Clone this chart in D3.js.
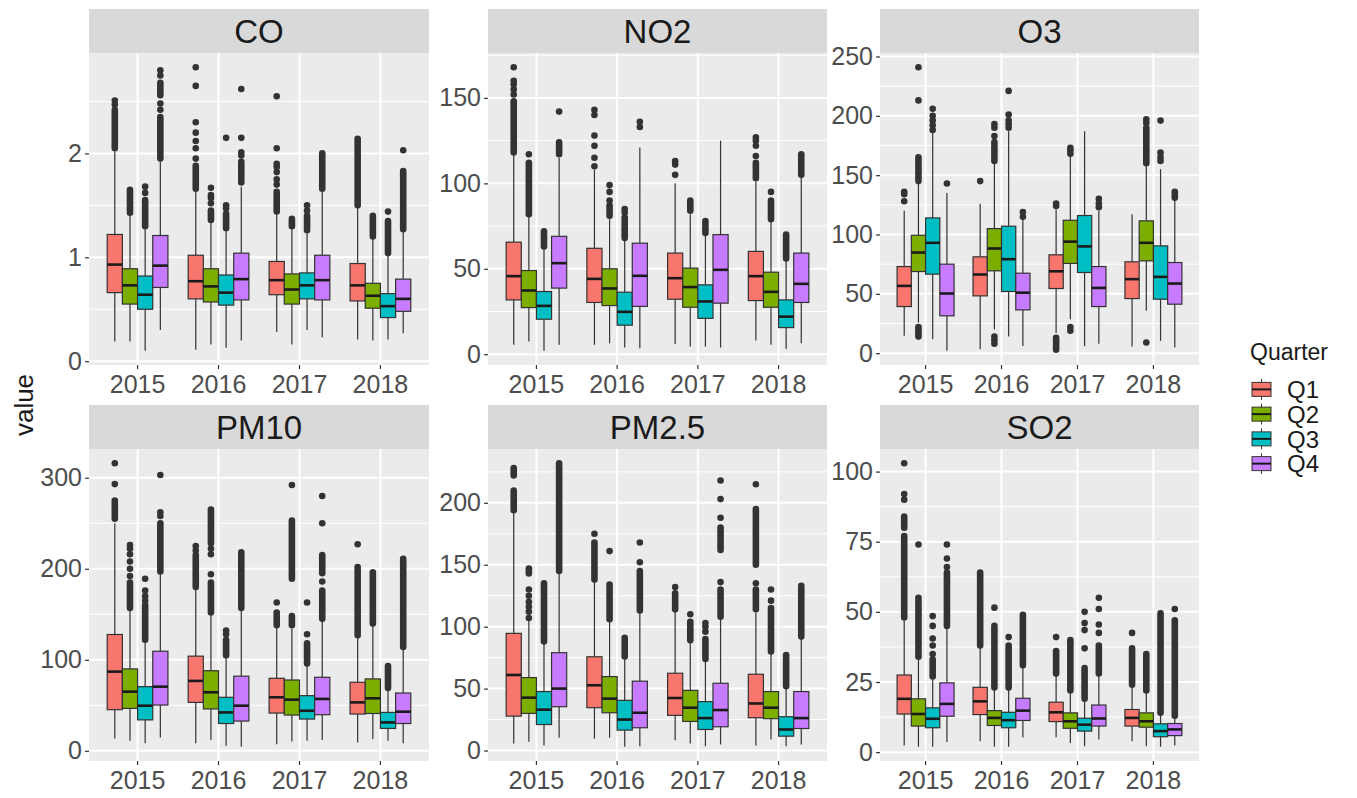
<!DOCTYPE html>
<html>
<head>
<meta charset="utf-8">
<script src="https://cdn.jsdelivr.net/npm/d3@7"></script>
<style>
  body { margin: 0; background: #fff; }
  svg { display: block; }
</style>
</head>
<body>
<svg id="chart" width="1357" height="798"></svg>
<script>
const pollutants = ["CO", "NO2", "O3", "PM10", "PM2.5", "SO2"];
const years = ["2015", "2016", "2017", "2018"];
const quarters = ["Q1", "Q2", "Q3", "Q4"];
const quarterColors = ["#F8766D", "#7CAE00", "#00BFC4", "#C77CFF"];

// y tick labels per panel
const coTicks = [0, 1, 2];
const no2Ticks = [0, 50, 100, 150];
const o3Ticks = [0, 50, 100, 150, 200, 250];
const pm10Ticks = [0, 100, 200, 300];
const pm25Ticks = [0, 50, 100, 150, 200];
const so2Ticks = [0, 25, 50, 75, 100];

// boxes, 2015 Q1..Q4, 2016 Q1..Q4 ... : [lower whisker, q1, median, q3, upper whisker]
const coBoxes = [
  [0.19, 0.66, 0.93, 1.22, 2.02], [0.19, 0.55, 0.73, 0.89, 1.40], [0.10, 0.50, 0.64, 0.82, 1.27], [0.30, 0.71, 0.92, 1.21, 1.92],
  [0.11, 0.60, 0.77, 1.02, 1.63], [0.16, 0.57, 0.72, 0.89, 1.33], [0.13, 0.54, 0.66, 0.83, 1.25], [0.20, 0.59, 0.79, 1.04, 1.68],
  [0.28, 0.64, 0.78, 0.96, 1.41], [0.16, 0.55, 0.69, 0.84, 1.27], [0.30, 0.60, 0.73, 0.85, 1.23], [0.23, 0.59, 0.78, 1.02, 1.63],
  [0.21, 0.58, 0.73, 0.94, 1.48], [0.20, 0.51, 0.63, 0.75, 1.18], [0.21, 0.42, 0.53, 0.65, 1.02], [0.27, 0.48, 0.60, 0.79, 1.25]
];
const no2Boxes = [
  [5.5, 31.8, 45.7, 65.6, 116], [7.4, 27.3, 37.3, 49, 81], [2, 20.5, 28.3, 36.7, 61], [5.5, 38.7, 53.3, 69, 115],
  [5.5, 30.3, 44.1, 62, 108], [6.4, 28.5, 38.5, 50, 79], [3.9, 17, 24.8, 36.3, 67], [3.5, 28, 45.9, 65, 121],
  [6, 32.2, 44.5, 59.2, 100], [4.5, 27.5, 39.3, 50.4, 82], [4.5, 21, 30.9, 40.6, 70], [3.9, 29.9, 49.4, 70, 125],
  [8, 31.4, 45.7, 60.2, 101], [5.5, 27.5, 36.5, 48, 78], [3, 15.6, 22, 31.8, 55], [6.4, 30.3, 41.2, 59.2, 104]
];
const o3Boxes = [
  [14.6, 39.3, 56.7, 73, 120], [25.8, 68.8, 84.8, 99.4, 143], [11.8, 66.6, 93, 114, 186], [2, 31.5, 50.3, 75, 135],
  [3.4, 48.3, 66.3, 81.2, 126], [20, 69.4, 88.2, 105, 160], [14, 52, 79.2, 107, 187], [6, 36.5, 51, 67.4, 113],
  [17, 54.5, 69, 82.9, 121], [28.6, 75.6, 94, 112, 166], [6, 68, 90, 116, 187], [8, 39.3, 55, 73, 120],
  [5.6, 46, 62.4, 77, 117], [35.7, 77.8, 93, 111.5, 158], [10.4, 45.5, 64.3, 90.4, 155], [4.8, 41.3, 58.7, 76.4, 129]
];
const pm10Boxes = [
  [13.6, 45.2, 87, 127.8, 250], [11, 46.6, 65, 90, 154], [8.4, 34, 49.6, 70.5, 120], [14.7, 50.3, 70.5, 109.4, 194],
  [8.4, 53.2, 76.8, 104, 178], [12, 46, 64.3, 88, 150], [5.5, 30, 42.2, 58.8, 102], [4.4, 32.7, 49.6, 82, 155],
  [7.3, 41.5, 58.8, 79.7, 136], [10.3, 39.3, 56.2, 77.8, 134], [11, 34.9, 44, 60.6, 94], [12, 39.7, 57, 80.8, 142],
  [9.2, 40.4, 53.2, 75.3, 125], [12.9, 41, 57.7, 79, 138], [11, 24.6, 31.2, 42.2, 66], [8.4, 30, 43, 63.5, 112]
];
const pm25Boxes = [
  [5.7, 27.8, 61, 94.6, 192], [7, 30, 42.7, 58.9, 106], [4, 21, 33, 47.6, 86], [10.3, 35.4, 50, 79, 143],
  [9.5, 34.6, 52.7, 75.7, 136], [10.3, 30.5, 41.9, 59.7, 105], [3, 16.5, 25, 40.5, 74], [3.5, 18.4, 30.5, 56, 111],
  [8.4, 28.4, 42.4, 62.4, 112], [5.7, 23.5, 34.6, 48.6, 88], [3.5, 17, 26.2, 39.5, 72], [4.9, 19.2, 32.7, 54.3, 106],
  [4, 26.5, 38, 61.6, 111], [8.9, 25.7, 34.6, 47.6, 78], [3.5, 11.6, 17, 27.3, 50], [4.9, 17.8, 26.2, 47.6, 90]
];
const so2Boxes = [
  [2.4, 13.6, 19, 27.5, 47], [1.9, 9.3, 13.6, 19, 33], [1.9, 8.7, 11.9, 15.8, 26], [3.6, 12.8, 17.2, 24.7, 44],
  [3.9, 13.4, 18.1, 23.1, 37], [1.9, 9.5, 12.2, 14.8, 22], [1.9, 8.7, 11.4, 14.2, 22], [5.3, 11.3, 14.8, 19.2, 30.5],
  [5.3, 10.9, 14.2, 17.8, 27.5], [3.3, 8.5, 11, 14, 21], [2.1, 7.5, 9.8, 12.1, 18.5], [4.5, 9.3, 12, 16.8, 27],
  [3.9, 9.3, 12.2, 15.2, 23], [2.1, 8.9, 11, 14, 21.5], [1.9, 5.5, 7.5, 10.1, 13], [2.4, 5.9, 8.1, 10.2, 12.5]
];

// outliers, same order; a number is one point, [from, to] is a run of points packed too close to separate
const coOutliers = [
  [[2.05, 2.42], 2.47, 2.51], [[1.43, 1.65]], [[1.30, 1.55], 1.62, 1.68], [[1.95, 2.35], 2.42, 2.48, [2.56, 2.68], 2.75, 2.80],
  [[1.66, 1.88], 1.95, 2.05, 2.12, 2.2, 2.3, 2.65, 2.83], [[1.36, 1.45], 1.52, 1.57, 1.60, 1.67], [[1.28, 1.42], 1.47, 1.50, 2.15], [[1.72, 1.92], 1.98, 2.01, 2.15, 2.62],
  [[1.44, 1.63], 1.70, 1.75, 1.82, 1.87, 1.90, 2.05, 2.55], [[1.30, 1.37]], [[1.26, 1.40], 1.45, 1.50], [[1.66, 2.00]],
  [[1.50, 2.14]], [[1.20, 1.40]], [[1.04, 1.35], 1.44], [[1.27, 1.83], 2.03]
];
const no2Outliers = [
  [[118, 148], 152, 155, 158, 160, 168], [[82, 112], 117], [[63, 72]], [[117, 124], 142],
  [110, 115, 122, 128, 140, 143], [[81, 87], 90, 95, 99], [[68, 80], 83, 85], [133, 136],
  [105, 111, 113], [[84, 90]], [[71, 78]], [],
  [[103, 112], 116, 122, 125, 127], [[79, 90], 95], [[56, 70]], [[105, 117]]
];
const o3Outliers = [
  [128, 134, 136], [14, 16, 18, 20, 22, [145, 165], 213, 241], [188, 192, 196, 200, 206], [143],
  [145], [8, 11, 14, [162, 178], 183, 190, 193], [190, 193, 196, 201, 221], [115, 119],
  [3, 5, 7, 9, 11, 13, 124, 126], [19, 22, 168, 171, 173], [], [123, 126, 130],
  [], [9, [160, 190], 194, 197], [162, 165, 169, 196], [[131, 136]]
];
const pm10Outliers = [
  [[255, 275], 293, 316], [[157, 185], 192, 200, 208, 216, 222, 226], [[122, 160], 165, 170, 176, 189], [[197, 250], 258, 262, 303],
  [[180, 215], 220, 225], [[152, 185], 194, 216, 222, [228, 265]], [[105, 122], 128, 132], [[157, 218]],
  [[138, 152], 163], [[138, 148], [189, 253], 292], [[96, 118], 128, 163], [[145, 176], 186, [195, 215], 250, 280],
  [[127, 202], 227], [[140, 196]], [[69, 93]], [[114, 211]]
];
const pm25Outliers = [
  [[194, 210], [222, 228]], [107, 112, 116, 120, 125, 130, [143, 147]], [[88, 135]], [[145, 232]],
  [[138, 168], 175], [[106, 134], 161], [[76, 91]], [[113, 145], 152, 168],
  [[114, 127], 132], [[89, 104], 110], [[74, 90], 96, 100, 103], [[108, 130], 136, [162, 180], 188, 203, 218],
  [[114, 130], 135, [150, 195], 215], [[80, 115], 121, 130], [[52, 77]], [[92, 133]]
];
const so2Outliers = [
  [[48, 77], [80, 84], 90, 92, 103], [[34, 55], 74], [[27, 33], 35, 38, 40.5, 45, 48.5], [[45, 64], 66, 69, 74],
  [[38, 64]], [[23, 45], 51.5], [[23, 38], 41], [[31, 49]],
  [[28, 36], 41], [[22, 40]], [[19, 30], 37, 43.5, 46, 50], [[28, 38], 42.5, 45.5, 51, 55],
  [[24, 37], 42.5], [[22, 35]], [[14, 49.5]], [[13, 47], 51]
];

const panelTicks = [coTicks, no2Ticks, o3Ticks, pm10Ticks, pm25Ticks, so2Ticks];
const panelBoxes = [coBoxes, no2Boxes, o3Boxes, pm10Boxes, pm25Boxes, so2Boxes];
const panelOutliers = [coOutliers, no2Outliers, o3Outliers, pm10Outliers, pm25Outliers, so2Outliers];

// layout
const colX = [89, 488, 880];
const colW = [340, 339, 319];
const rowY = [9, 405];
const stripH = 44;
const panelH = 312;
const font = "'Liberation Sans', Arial, sans-serif";
const dotR = 3.3;

const svg = d3.select("#chart").style("font-family", font);

pollutants.forEach((name, i) => {
  const col = i % 3, row = Math.floor(i / 3);
  const x0 = colX[col], w = colW[col];
  const top = rowY[row] + stripH;
  const bottom = top + panelH;
  const boxes = panelBoxes[i];
  const outliers = panelOutliers[i];
  const ticks = panelTicks[i];

  // y range from the data, with ggplot's 5% expansion
  const allVals = boxes.flat().concat(outliers.flat(2));
  const lo = d3.min(allVals), hi = d3.max(allVals);
  const pad = (hi - lo) * 0.05;
  const y = d3.scaleLinear().domain([lo - pad, hi + pad]).range([bottom, top]);

  const x = d3.scaleBand().domain(years).range([x0, x0 + w])
    .paddingInner(0.25).paddingOuter(0.225);
  const xq = d3.scaleBand().domain(quarters).range([0, x.bandwidth()]);

  const g = svg.append("g");

  // strip
  g.append("rect").attr("x", x0).attr("y", rowY[row]).attr("width", w).attr("height", stripH)
    .attr("fill", "#D9D9D9");
  g.append("text").attr("x", x0 + w / 2).attr("y", rowY[row] + stripH / 2).attr("dy", "0.36em")
    .attr("text-anchor", "middle").attr("font-size", 33).attr("fill", "#1A1A1A").text(name);

  // panel background and grid
  g.append("rect").attr("x", x0).attr("y", top).attr("width", w).attr("height", panelH)
    .attr("fill", "#EBEBEB");
  const step = ticks[1] - ticks[0];
  const minor = ticks.map(t => t + step / 2).filter(v => v > y.domain()[0] && v < y.domain()[1]);
  g.selectAll(".minor").data(minor).enter().append("line")
    .attr("x1", x0).attr("x2", x0 + w).attr("y1", d => y(d)).attr("y2", d => y(d))
    .attr("stroke", "#fff").attr("stroke-width", 1);
  g.selectAll(".major").data(ticks).enter().append("line")
    .attr("x1", x0).attr("x2", x0 + w).attr("y1", d => y(d)).attr("y2", d => y(d))
    .attr("stroke", "#fff").attr("stroke-width", 2);
  g.selectAll(".vmajor").data(years).enter().append("line")
    .attr("x1", d => x(d) + x.bandwidth() / 2).attr("x2", d => x(d) + x.bandwidth() / 2)
    .attr("y1", top).attr("y2", bottom)
    .attr("stroke", "#fff").attr("stroke-width", 2);

  // axes
  const yAxis = g.append("g").attr("transform", `translate(${x0},0)`)
    .call(d3.axisLeft(y).tickValues(ticks).tickFormat(d => String(d)).tickSize(4).tickPadding(3));
  const xAxis = g.append("g").attr("transform", `translate(0,${bottom})`)
    .call(d3.axisBottom(x).tickSize(4).tickPadding(6));
  [yAxis, xAxis].forEach(a => {
    a.select(".domain").remove();
    a.attr("font-family", font);
    a.selectAll(".tick line").attr("stroke", "#333").attr("stroke-width", 1.2);
    a.selectAll(".tick text").attr("fill", "#4D4D4D").attr("font-size", 25);
  });

  // boxes
  boxes.forEach((b, k) => {
    const yr = years[Math.floor(k / 4)], q = quarters[k % 4];
    const bx = x(yr) + xq(q), bw = xq.bandwidth(), cx = bx + bw / 2;
    const bg = g.append("g");
    bg.append("line").attr("x1", cx).attr("x2", cx).attr("y1", y(b[0])).attr("y2", y(b[1]))
      .attr("stroke", "#333").attr("stroke-width", 1.2);
    bg.append("line").attr("x1", cx).attr("x2", cx).attr("y1", y(b[3])).attr("y2", y(b[4]))
      .attr("stroke", "#333").attr("stroke-width", 1.2);
    bg.append("rect").attr("x", bx).attr("y", y(b[3])).attr("width", bw).attr("height", y(b[1]) - y(b[3]))
      .attr("fill", quarterColors[k % 4]).attr("stroke", "#333").attr("stroke-width", 1.2);
    bg.append("line").attr("x1", bx).attr("x2", bx + bw).attr("y1", y(b[2])).attr("y2", y(b[2]))
      .attr("stroke", "#1A1A1A").attr("stroke-width", 2.6);

    outliers[k].forEach(o => {
      if (Array.isArray(o)) {
        bg.append("line").attr("x1", cx).attr("x2", cx).attr("y1", y(o[0])).attr("y2", y(o[1]))
          .attr("stroke", "#333").attr("stroke-width", dotR * 2).attr("stroke-linecap", "round");
      } else {
        bg.append("circle").attr("cx", cx).attr("cy", y(o)).attr("r", dotR).attr("fill", "#333");
      }
    });
  });
});

// y axis title
svg.append("text").attr("transform", "translate(24,405) rotate(-90)")
  .attr("text-anchor", "middle").attr("dy", "0.36em").attr("font-size", 26).attr("fill", "#1A1A1A")
  .text("value");

// legend
const legend = svg.append("g").attr("transform", "translate(1250,0)");
legend.append("text").attr("x", 0).attr("y", 360).attr("font-size", 23).attr("fill", "#1A1A1A").text("Quarter");
const keyY = d3.scaleBand().domain(quarters).range([377, 476]);
quarters.forEach((q, k) => {
  const ky = keyY(q), kh = keyY.bandwidth(), kc = ky + kh / 2;
  legend.append("line").attr("x1", 11.5).attr("x2", 11.5).attr("y1", ky + 2).attr("y2", ky + kh - 2)
    .attr("stroke", "#333").attr("stroke-width", 1);
  legend.append("rect").attr("x", 2).attr("y", kc - 7).attr("width", 19).attr("height", 14)
    .attr("fill", quarterColors[k]).attr("stroke", "#333").attr("stroke-width", 1);
  legend.append("line").attr("x1", 2).attr("x2", 21).attr("y1", kc).attr("y2", kc)
    .attr("stroke", "#1A1A1A").attr("stroke-width", 2);
  legend.append("text").attr("x", 37).attr("y", kc).attr("dy", "0.36em").attr("font-size", 24)
    .attr("fill", "#1A1A1A").text(q);
});
</script>
</body>
</html>
